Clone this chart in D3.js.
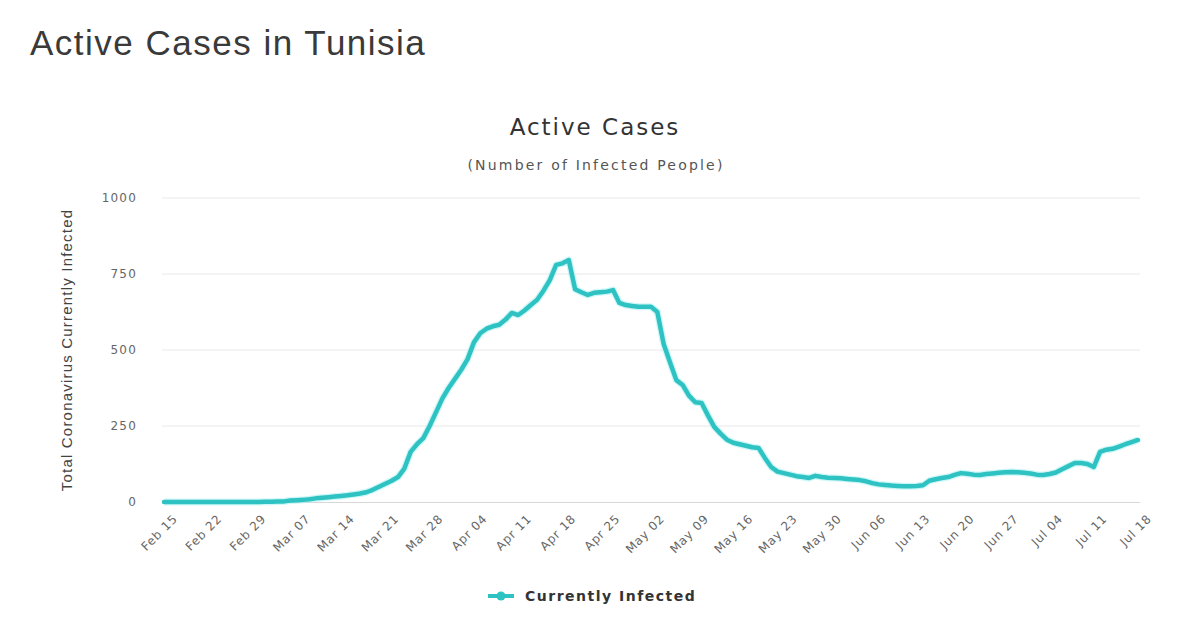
<!DOCTYPE html>
<html>
<head>
<meta charset="utf-8">
<script src="https://cdn.jsdelivr.net/npm/d3@7/dist/d3.min.js"></script>
<style>
  html, body { margin: 0; padding: 0; background: #fff; }
  svg { display: block; }
</style>
</head>
<body>
<svg id="chart" width="1200" height="630"></svg>
<script>
// ---- data ----
const startDate = "2020-02-15";
const seriesName = "Currently Infected";
const activeCases = [
  0,0,0,0,0,0,0,0,0,0, 0,0,0,0,0,0,1,1,2,2,
  5,6,7,9,12,14,16,18,20,22, 25,28,32,40,50,60,70,82,110,165,
  190,210,250,295,340,375,405,435,470,525, 555,570,578,583,600,622,615,630,648,665,
  695,730,780,785,796,700,690,681,688,690, 692,697,655,648,645,642,642,642,625,520,
  460,401,385,350,328,326,285,247,225,205, 195,190,185,180,178,145,115,100,95,90,
  85,82,79,86,82,80,79,78,76,74, 72,68,62,58,56,54,53,52,52,53,
  55,70,75,79,82,89,95,93,90,89, 92,94,96,98,99,98,96,94,90,89,
  92,97,108,118,128,128,125,115,165,172, 175,182,190,197,204
];
const yTicks = [0, 250, 500, 750, 1000];
const tickEveryDays = 7;
const pageTitle = "Active Cases in Tunisia";
const chartTitle = "Active Cases";
const chartSubtitle = "(Number of Infected People)";
const yAxisTitle = "Total Coronavirus Currently Infected";

// ---- build ----
const parse = d3.timeParse("%Y-%m-%d");
const d0 = parse(startDate);
const data = activeCases.map((v, i) => ({ date: d3.timeDay.offset(d0, i), value: v }));

const svg = d3.select("#chart");
const plotLeft = 164, plotRight = 1138, plotTop = 198, plotBottom = 502;

const x = d3.scaleTime()
  .domain([data[0].date, data[data.length - 1].date])
  .range([plotLeft, plotRight]);
const y = d3.scaleLinear().domain([0, 1000]).range([plotBottom, plotTop]);

const font = "'DejaVu Sans', Verdana, sans-serif";

// page title
svg.append("text")
  .attr("x", 30).attr("y", 55)
  .attr("font-family", "'Liberation Sans', Arial, sans-serif")
  .attr("font-size", 35)
  .attr("letter-spacing", 1.5)
  .attr("fill", "#3a3a3a")
  .text(pageTitle);

// chart title/subtitle
svg.append("text")
  .attr("x", 595).attr("y", 135)
  .attr("text-anchor", "middle")
  .attr("font-family", font)
  .attr("font-size", 23)
  .attr("letter-spacing", 2)
  .attr("fill", "#333")
  .text(chartTitle);
svg.append("text")
  .attr("x", 596).attr("y", 170)
  .attr("text-anchor", "middle")
  .attr("font-family", font)
  .attr("font-size", 14)
  .attr("letter-spacing", 2.2)
  .attr("fill", "#555")
  .text(chartSubtitle);

// grid lines
const grid = svg.append("g");
grid.selectAll("line").data(yTicks.filter(t => t > 0)).join("line")
  .attr("x1", plotLeft - 2).attr("x2", plotRight + 2)
  .attr("y1", d => y(d)).attr("y2", d => y(d))
  .attr("stroke", "#e8e8e8").attr("stroke-width", 1);

// y axis
const yAxis = d3.axisLeft(y).tickValues(yTicks).tickSize(0).tickPadding(27)
  .tickFormat(d3.format("d"));
const gy = svg.append("g").attr("transform", `translate(${plotLeft},0)`).call(yAxis);
gy.select(".domain").remove();
gy.selectAll("text")
  .attr("font-family", font).attr("font-size", 12)
  .attr("letter-spacing", 1.2)
  .attr("fill", "#666");

// x axis
const ticks = d3.range(0, activeCases.length, tickEveryDays).map(i => data[i].date);
const xAxis = d3.axisBottom(x).tickValues(ticks).tickSize(0).tickPadding(8)
  .tickFormat(d3.timeFormat("%b %d"));
const gx = svg.append("g").attr("transform", `translate(0,${plotBottom})`).call(xAxis);
gx.select(".domain").attr("stroke", "#d8d8d8").attr("d", `M${plotLeft - 2},0.5H${plotRight + 2}`);
gx.selectAll("text")
  .attr("font-family", font).attr("font-size", 12)
  .attr("letter-spacing", 0.8)
  .attr("fill", "#666")
  .attr("text-anchor", "end")
  .attr("dy", "0.35em")
  .attr("transform", "translate(5,9) rotate(-45)");

// y axis title
svg.append("text")
  .attr("transform", `translate(72,${(plotTop + plotBottom) / 2}) rotate(-90)`)
  .attr("text-anchor", "middle")
  .attr("font-family", "'Liberation Sans', Arial, sans-serif")
  .attr("font-size", 15)
  .attr("letter-spacing", 1.2)
  .attr("fill", "#444")
  .text(yAxisTitle);

// line
const line = d3.line().x(d => x(d.date)).y(d => y(d.value));
svg.append("path")
  .datum(data)
  .attr("d", line)
  .attr("fill", "none")
  .attr("stroke", "#9ff0f0")
  .attr("stroke-width", 7)
  .attr("stroke-opacity", 0.5)
  .attr("stroke-linejoin", "round");
svg.append("path")
  .datum(data)
  .attr("d", line)
  .attr("fill", "none")
  .attr("stroke", "#2ec2c2")
  .attr("stroke-width", 4.5)
  .attr("stroke-linejoin", "round")
  .attr("stroke-linecap", "round");

// legend
const lg = svg.append("g").attr("transform", "translate(488,596)");
lg.append("line").attr("x1", 0).attr("x2", 26).attr("y1", 0).attr("y2", 0)
  .attr("stroke", "#2ec2c2").attr("stroke-width", 4);
lg.append("circle").attr("cx", 13).attr("cy", 0).attr("r", 4.5).attr("fill", "#2ec2c2");
lg.append("text")
  .attr("x", 37).attr("y", 5)
  .attr("font-family", font)
  .attr("font-size", 14)
  .attr("font-weight", "bold")
  .attr("letter-spacing", 1.5)
  .attr("fill", "#333")
  .text(seriesName);
</script>
</body>
</html>
